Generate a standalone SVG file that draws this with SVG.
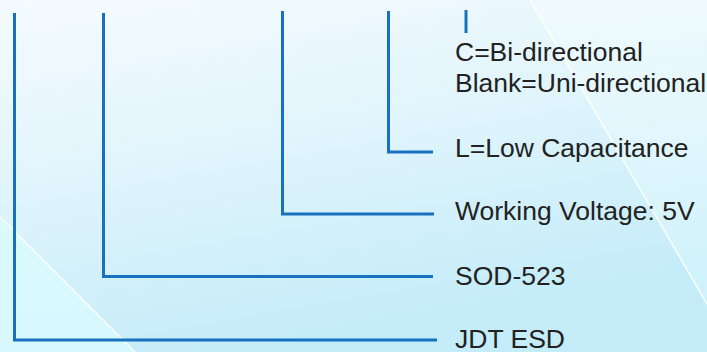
<svg xmlns="http://www.w3.org/2000/svg" width="707" height="352" viewBox="0 0 707 352">
  <defs>
    <linearGradient id="bg" x1="0" y1="0" x2="0.35" y2="1">
      <stop offset="0" stop-color="#f5fbfe"/>
      <stop offset="0.45" stop-color="#e2f5fc"/>
      <stop offset="1" stop-color="#c4ecf9"/>
    </linearGradient>
    <linearGradient id="rightPane" x1="0" y1="0" x2="0" y2="1">
      <stop offset="0" stop-color="#f3fcfe"/>
      <stop offset="1" stop-color="#d6f6fc"/>
    </linearGradient>
    <style>
      .conn { fill: none; stroke: #1870c0; stroke-width: 3; stroke-linejoin: miter; stroke-linecap: butt; }
      .lbl { font-family: "Liberation Sans", Arial, sans-serif; font-size: 26.5px; fill: #222222; }
      .edge { stroke: #ffffff; stroke-width: 1.5; fill: none; opacity: 0.9; }
    </style>
  </defs>

  <g id="background">
    <rect x="0" y="0" width="707" height="352" fill="url(#bg)"/>
    <polygon points="530,0 707,0 707,303" fill="url(#rightPane)" opacity="0.6"/>
    <polygon points="0,217 134,352 0,352" fill="#dafbfe" opacity="0.8"/>
    <line class="edge" x1="530" y1="0" x2="707" y2="304"/>
    <line class="edge" x1="0" y1="217" x2="135" y2="352"/>
  </g>

  <g id="connectors">
    <polyline class="conn" points="14.5,13 14.5,340 437,340"/>
    <polyline class="conn" points="103.5,13 103.5,276.5 433,276.5"/>
    <polyline class="conn" points="282.5,11 282.5,214 434,214"/>
    <polyline class="conn" points="388.5,11 388.5,152 433,152"/>
    <line class="conn" x1="466" y1="10" x2="466" y2="33"/>
  </g>

  <g id="node-type">
    <text class="lbl" x="455" y="61">C=Bi-directional</text>
    <text class="lbl" x="455" y="91.5">Blank=Uni-directional</text>
  </g>
  <g id="node-capacitance">
    <text class="lbl" x="455" y="157">L=Low Capacitance</text>
  </g>
  <g id="node-voltage">
    <text class="lbl" x="455" y="220">Working Voltage: 5V</text>
  </g>
  <g id="node-package">
    <text class="lbl" x="455" y="284.5">SOD-523</text>
  </g>
  <g id="node-brand">
    <text class="lbl" x="455" y="347.5">JDT ESD</text>
  </g>
</svg>
